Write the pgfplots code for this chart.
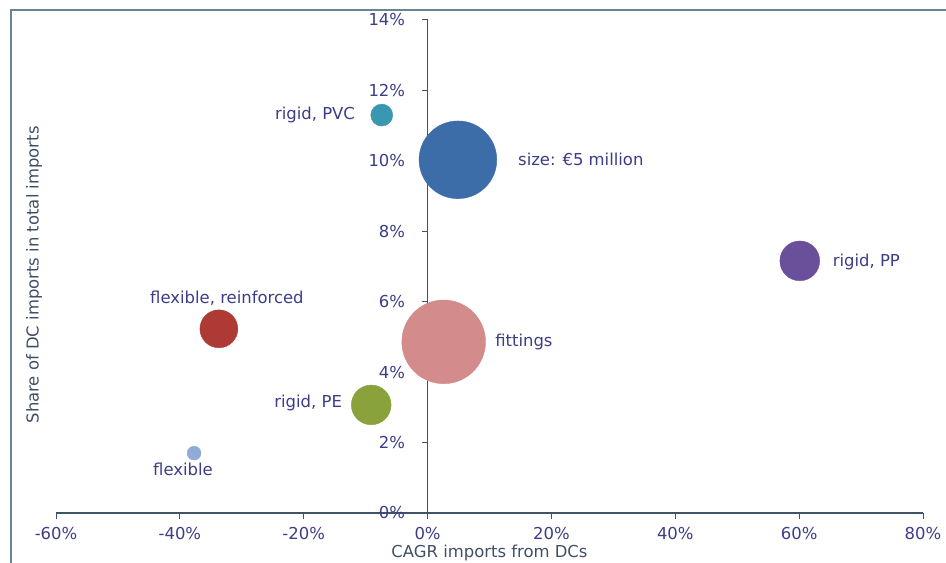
\documentclass[border=0pt]{standalone}
\usepackage{pgfplots}
\pgfplotsset{compat=1.18}
\usepackage{pgfplotstable}
\usepackage{fontspec}
\setmainfont{DejaVu Sans}
\definecolor{txt}{HTML}{3C3C88}
\definecolor{labcol}{HTML}{3F4F66}
\definecolor{axiscol}{HTML}{3E5366}
\definecolor{framecol}{HTML}{6E8294}
\definecolor{cPVC}{HTML}{3A97B2}
\definecolor{cSize}{HTML}{3D6DA8}
\definecolor{cPP}{HTML}{6A4F9A}
\definecolor{cFR}{HTML}{AE3A36}
\definecolor{cFit}{HTML}{D38B8B}
\definecolor{cPE}{HTML}{8AA23C}
\definecolor{cFlex}{HTML}{92AAD8}
\pgfplotsset{bubble/.style={scatter, only marks, mark=*,
  scatter/use mapped color={draw=#1,fill=#1},
  visualization depends on={39*sqrt(\thisrow{s}/5) \as \rad},
  scatter/@pre marker code/.append style={/tikz/mark size=\rad}}}
\newcommand{\lf}{\fontsize{16.5}{19}\selectfont}
\begin{document}
\begin{tikzpicture}
\path[use as bounding box] (0,0) rectangle (946bp,563bp);
\begin{axis}[at={(56bp,50bp)}, anchor=south west, scale only axis,
  width=867bp, height=493bp,
  xmin=-60, xmax=80, ymin=0, ymax=14,
  axis lines=middle, axis line style={-, axiscol, line width=1.2bp},
  hide obscured x ticks=false, hide obscured y ticks=false,
  xtick={-60,-40,...,80}, ytick={0,2,...,14},
  xticklabels={-60\%,-40\%,-20\%,0\%,20\%,40\%,60\%,80\%},
  yticklabels={0\%,2\%,4\%,6\%,8\%,10\%,12\%,14\%},
  tick align=outside, major tick length=6bp,
  tick style={axiscol, line width=1bp},
  ticklabel style={font=\lf, text=txt},
  xticklabel style={yshift=-5bp},
  yticklabel style={xshift=-13bp},
  xlabel={CAGR imports from DCs}, ylabel={Share of DC imports in total imports},
  xlabel style={at={(rel axis cs:0.5,-0.0811)}, anchor=center, font=\lf, text=labcol},
  ylabel style={at={(rel axis cs:-0.0254,0.483)}, anchor=center, rotate=90, font=\lf, text=labcol},
  clip=false]
\addplot[bubble=cPVC] table {
x y s
-7.4 11.3 0.40
};
\addplot[bubble=cSize] table {
x y s
4.9 10.03 5.0
};
\addplot[bubble=cPP] table {
x y s
60.1 7.16 1.31
};
\addplot[bubble=cFR] table {
x y s
-33.7 5.23 1.19
};
\addplot[bubble=cFit] table {
x y s
2.6 4.86 5.8
};
\addplot[bubble=cPE] table {
x y s
-9.1 3.07 1.31
};
\addplot[bubble=cFlex] table {
x y s
-37.7 1.70 0.16
};
\begin{scope}[every node/.style={font=\lf, text=txt, inner sep=0pt}]
\node[anchor=east] at (axis cs:-11.7,11.3) {rigid, PVC};
\node[anchor=west] at (axis cs:14.6,10.03) {size: €5 million};
\node[anchor=west] at (axis cs:65.4,7.13) {rigid, PP};
\node[anchor=center] at (axis cs:-32.4,6.11) {flexible, reinforced};
\node[anchor=west] at (axis cs:10.9,4.86) {fittings};
\node[anchor=east] at (axis cs:-13.8,3.13) {rigid, PE};
\node[anchor=center] at (axis cs:-39.5,1.25) {flexible};
\end{scope}
\end{axis}
\draw[framecol, line width=2bp] (11bp,-10bp) -- (11bp,553bp) -- (960bp,553bp);
\end{tikzpicture}
\end{document}
